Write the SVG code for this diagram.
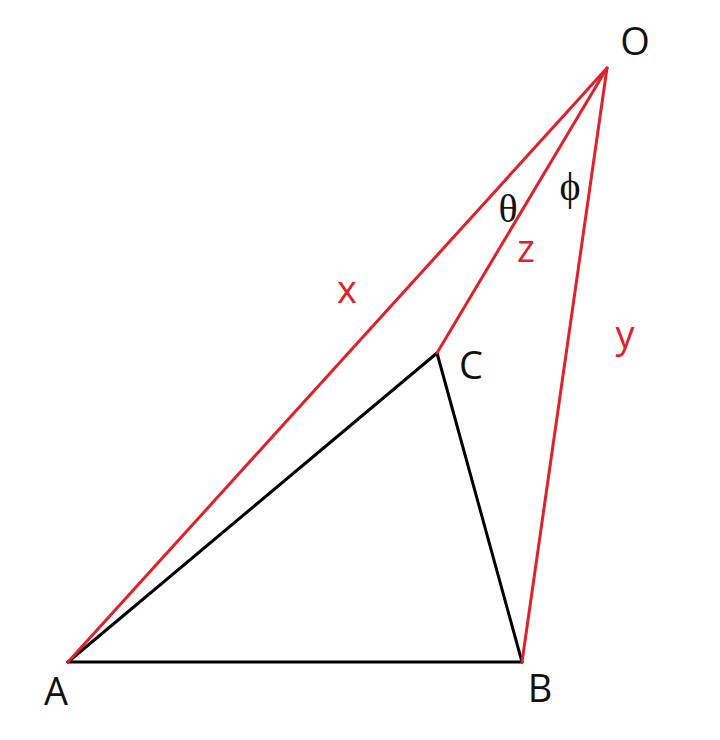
<svg xmlns="http://www.w3.org/2000/svg" width="720" height="740" viewBox="0 0 720 740">
<style>
.red{stroke:#e0202a;stroke-width:3;fill:none;stroke-linecap:round}
.blk{stroke:#000;stroke-width:3;fill:none;stroke-linecap:round}
.lbl{font-family:"Open Sans","Noto Sans",sans-serif;font-size:38px;text-anchor:middle;fill:#111}
.rl{font-family:"Open Sans","Noto Sans",sans-serif;font-size:38px;text-anchor:middle;fill:#e0202a}
.gr{font-family:"Liberation Serif",serif;font-size:40px;text-anchor:middle;fill:#111}
</style>
<rect width="720" height="740" fill="#fff"/>
<g id="connectors">
<line class="blk" x1="68" y1="662" x2="437" y2="353"/>
<line class="blk" x1="437" y1="353" x2="522" y2="662"/>
<line class="blk" x1="68" y1="662" x2="522" y2="662"/>
<line class="red" x1="607" y1="68" x2="68" y2="662"/>
<line class="red" x1="607" y1="68" x2="437" y2="353"/>
<line class="red" x1="607" y1="68" x2="522" y2="662"/>
</g>
<g id="O"><text class="lbl" x="635" y="55">O</text></g>
<g id="A"><text class="lbl" x="56" y="705">A</text></g>
<g id="B"><text class="lbl" x="540" y="702">B</text></g>
<g id="C"><text class="lbl" x="471" y="379">C</text></g>
<g id="labels">
<text class="rl" x="347" y="303">x</text>
<text class="rl" x="526" y="262">z</text>
<text class="rl" x="625" y="348">y</text>
<text class="gr" x="508" y="222">θ</text>
<text class="gr" x="570" y="200">ϕ</text>
</g>
</svg>
